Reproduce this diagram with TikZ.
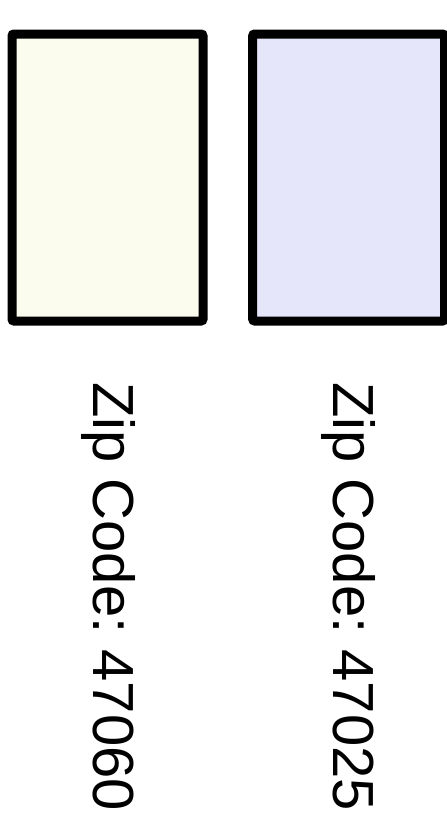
\documentclass[tikz,border=0pt]{standalone}
\usepackage{fontspec}
\setmainfont{Liberation Sans}
\frenchspacing
\definecolor{leftfill}{HTML}{FBFBEE}
\definecolor{rightfill}{HTML}{E6E6FA}
\tikzset{
  card/.style={draw=black, line width=9pt, rounded corners=2pt},
  ziplabel/.style={rotate=-90, anchor=base, inner sep=0pt, font=\fontsize{58}{60}\selectfont}
}
\begin{document}
\begin{tikzpicture}[x=1pt,y=-1pt]
\useasboundingbox (0,0) rectangle (447,823);
\draw[card, fill=leftfill] (12,34) rectangle (203,321);
\draw[card, fill=rightfill] (252.7,34) rectangle (444.5,321);
\node[ziplabel] (zipA) at (93,596.5) {Zip Code: 47060};
\node[ziplabel] (zipB) at (333,596.5) {Zip Code: 47025};
\end{tikzpicture}
\end{document}
